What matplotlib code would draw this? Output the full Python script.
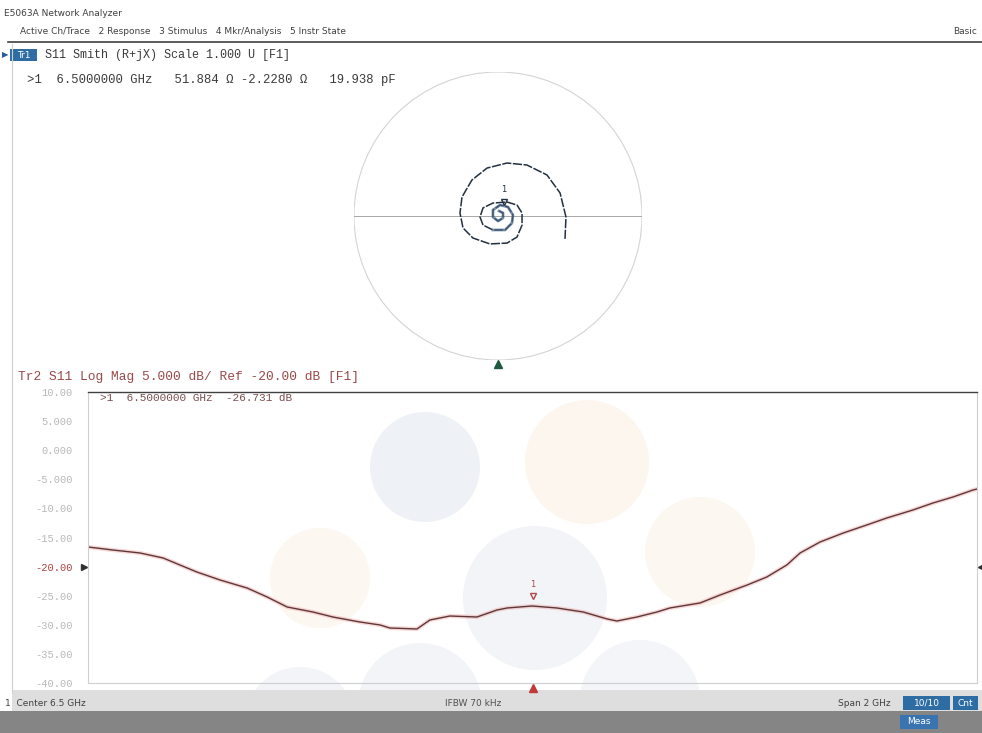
import numpy as np
import matplotlib
matplotlib.use('Agg')
import matplotlib.pyplot as plt
from matplotlib.patches import Circle, Rectangle
import matplotlib.transforms as mtransforms

W, H = 982, 733

# S11 log mag trace (GHz, dB)
freq_ghz = [5.500, 5.556, 5.617, 5.669, 5.707, 5.745, 5.797, 5.858, 5.903, 5.948,
            6.006, 6.051, 6.112, 6.157, 6.179, 6.240, 6.269, 6.314, 6.375, 6.420,
            6.443, 6.499, 6.555, 6.614, 6.668, 6.690, 6.735, 6.780, 6.809, 6.877,
            6.922, 6.983, 7.027, 7.072, 7.102, 7.147, 7.199, 7.252, 7.297, 7.356,
            7.401, 7.446, 7.491, 7.500]
s11_db = [-16.63, -17.15, -17.66, -18.52, -19.73, -20.93, -22.30, -23.68, -25.22, -26.94,
          -27.80, -28.66, -29.52, -30.03, -30.55, -30.72, -29.18, -28.49, -28.66, -27.46,
          -27.11, -26.77, -27.11, -27.80, -29.00, -29.35, -28.66, -27.80, -27.11, -26.25,
          -24.88, -23.16, -21.79, -19.73, -17.66, -15.77, -14.23, -12.85, -11.65, -10.27,
          -9.07, -8.04, -6.84, -6.67]

# S11 on the Smith chart (reflection coefficient, inner -> outer)
smith_re = [0.007, 0.035, 0.035, 0.000, -0.035, -0.035, 0.014, 0.069, 0.104, 0.097,
            0.049, -0.035, -0.104, -0.125, -0.104, -0.035, 0.063, 0.132, 0.167, 0.167,
            0.132, 0.063, -0.056, -0.174, -0.243, -0.264, -0.250, -0.181, -0.076, 0.063,
            0.201, 0.340, 0.431, 0.472, 0.465]
smith_im = [0.035, 0.021, -0.014, -0.035, -0.007, 0.042, 0.076, 0.063, 0.007, -0.049,
            -0.097, -0.097, -0.063, -0.007, 0.056, 0.090, 0.097, 0.076, 0.021, -0.063,
            -0.146, -0.188, -0.194, -0.153, -0.083, 0.021, 0.132, 0.250, 0.333, 0.368,
            0.354, 0.285, 0.160, -0.007, -0.167]

center_ghz = 6.5
span_ghz = 2.0
y_ticks = [10, 5, 0, -5, -10, -15, -20, -25, -30, -35, -40]
y_tick_labels = ['10.00', '5.000', '0.000', '-5.000', '-10.00', '-15.00', '-20.00',
                 '-25.00', '-30.00', '-35.00', '-40.00']
ref_db = -20.0

mkr_freq = 6.5
mkr_db = -26.731
mkr_smith = (0.04, 0.07)

menu_text = 'Active Ch/Trace   2 Response   3 Stimulus   4 Mkr/Analysis   5 Instr State'
smith_title = 'S11 Smith (R+jX) Scale 1.000 U [F1]'
smith_readout = '>1  6.5000000 GHz   51.884 \u03a9 -2.2280 \u03a9   19.938 pF'
log_title = 'Tr2 S11 Log Mag 5.000 dB/ Ref -20.00 dB [F1]'
log_readout = '>1  6.5000000 GHz  -26.731 dB'

MONO = 'Liberation Mono'
SANS = 'DejaVu Sans'


def frac(left, top, width, height):
    return [left / W, 1 - (top + height) / H, width / W, height / H]


fig = plt.figure(figsize=(W / 100, H / 100), dpi=100)
fig.patch.set_facecolor('white')

# background / chrome in pixel coordinates
bg = fig.add_axes([0, 0, 1, 1])
bg.set_xlim(0, W)
bg.set_ylim(H, 0)
bg.axis('off')

# faint watermark blobs
for (cx, cy, r, c) in [(425, 467, 55, '#eef1f6'), (587, 462, 62, '#fdf6ef'),
                       (700, 552, 55, '#fdf7f1'), (320, 578, 50, '#fdf7f1'),
                       (535, 598, 72, '#f2f4f8'), (420, 705, 62, '#f2f4f8'),
                       (300, 722, 55, '#f2f4f8'), (640, 700, 60, '#f4f5f9')]:
    bg.add_patch(Circle((cx, cy), r, color=c, lw=0, zorder=0))

bg.text(4, 13, 'E5063A Network Analyzer', fontsize=6.5, family=SANS, color='#404040', va='center')
bg.text(20, 31, menu_text, fontsize=6.5, family=SANS, color='#404040', va='center')
bg.text(953, 31, 'Basic', fontsize=6.5, family=SANS, color='#404040', va='center', clip_on=True)
bg.plot([8, W], [42, 42], color='#404040', lw=1.2)
bg.plot([12, 12], [44, 692], color='#cfcfcf', lw=0.8)

# Smith panel header
bg.text(2, 55, '\u25b6', fontsize=6, color='#2a5a9a', va='center', family=SANS)
bg.add_patch(Rectangle((10, 49), 27, 12, color='#2e6da4', lw=0))
bg.text(23.5, 55, 'Tr1', fontsize=6.5, color='white', ha='center', va='center', family=SANS)
bg.text(45, 55, smith_title, fontsize=8.5, family=MONO, color='#3a3a3a', va='center')
bg.text(27, 80, smith_readout, fontsize=8.8, family=MONO, color='#3a3a3a', va='center')

# log mag panel header
bg.text(18, 377, log_title, fontsize=9.3, family=MONO, color='#9a4848', va='center')

# status bars
bg.add_patch(Rectangle((12, 690), W - 12, 22, color='#dedede', lw=0))
bg.add_patch(Rectangle((0, 711), W, 22, color='#858585', lw=0))
bg.text(5, 703, '1  Center 6.5 GHz', fontsize=6.5, family=SANS, color='#404040', va='center')
bg.text(445, 703, 'IFBW 70 kHz', fontsize=6.5, family=SANS, color='#505050', va='center')
bg.text(838, 703, 'Span 2 GHz', fontsize=6.5, family=SANS, color='#404040', va='center')
bg.add_patch(Rectangle((903, 696), 47, 14, color='#2e6da4', lw=0))
bg.text(926.5, 703, '10/10', fontsize=6.5, family=SANS, color='white', ha='center', va='center')
bg.add_patch(Rectangle((953, 696), 25, 14, color='#2e6da4', lw=0))
bg.text(965.5, 703, 'Cnt', fontsize=6.5, family=SANS, color='white', ha='center', va='center')
bg.add_patch(Rectangle((900, 715), 38, 14, color='#3a74b0', lw=0))
bg.text(919, 722, 'Meas', fontsize=6.5, family=SANS, color='white', ha='center', va='center')

# Smith chart
sm = fig.add_axes(frac(354, 72, 288, 288))
sm.set_xlim(-1, 1)
sm.set_ylim(-1, 1)
sm.axis('off')
sm.patch.set_alpha(0)
sm.add_patch(Circle((0, 0), 1, fill=False, ec='#d4d4d4', lw=0.8))
sm.plot([-1, 1], [0, 0], color='#a8a8a8', lw=0.7)
sm.plot(smith_re, smith_im, color='#22303f', lw=1.1, ls=(0, (6, 1)))
sm.plot(smith_re[:12], smith_im[:12], color='#4a6a8a', lw=2.0, alpha=0.7)
sm.plot(mkr_smith[0], mkr_smith[1] + 0.03, 'v', color='#22303f', ms=4, mfc='none')
sm.text(mkr_smith[0], mkr_smith[1] + 0.08, '1', fontsize=6, color='#22303f', ha='center', va='bottom')
sm.plot(0, -1.03, '^', color='#1f5a40', ms=6, clip_on=False)

# log mag plot
lm = fig.add_axes(frac(88, 392, 889, 291))
lm.patch.set_alpha(0)
lm.set_xlim(center_ghz - span_ghz / 2, center_ghz + span_ghz / 2)
lm.set_ylim(-40, 10)
lm.plot(freq_ghz, s11_db, color='#f0b0b0', lw=3.0, alpha=0.5)
lm.plot(freq_ghz, s11_db, color='#5e3838', lw=1.0)
lm.set_xticks([])
lm.set_yticks(y_ticks)
lm.set_yticklabels(y_tick_labels, family=MONO, fontsize=7.5, color='#b8b8b8')
for lab, v in zip(lm.get_yticklabels(), y_ticks):
    if v == ref_db:
        lab.set_color('#b04040')
lm.tick_params(axis='y', length=0, pad=11)
for s in ['left', 'right', 'bottom']:
    lm.spines[s].set_color('#cfcfcf')
    lm.spines[s].set_linewidth(0.8)
lm.spines['top'].set_color('#404040')
lm.spines['top'].set_linewidth(1.0)

tr = mtransforms.blended_transform_factory(lm.transAxes, lm.transData)
lm.plot(-0.004, ref_db, '>', color='#303030', ms=5, transform=tr, clip_on=False)
lm.plot(1.004, ref_db, '<', color='#303030', ms=5, transform=tr, clip_on=False)

trx = mtransforms.blended_transform_factory(lm.transData, lm.transAxes)
lm.plot(center_ghz, -0.018, '^', color='#c03a3a', ms=6, transform=trx, clip_on=False)

lm.plot(mkr_freq, mkr_db + 1.6, 'v', color='#b04848', ms=4, mfc='none')
lm.text(mkr_freq, mkr_db + 2.8, '1', fontsize=6, color='#b04848', ha='center', va='bottom')
lm.text(0.014, 0.995, log_readout, transform=lm.transAxes, fontsize=8, family=MONO,
        color='#7a5050', va='top')

plt.savefig('out.png', dpi=100)
plt.close()
